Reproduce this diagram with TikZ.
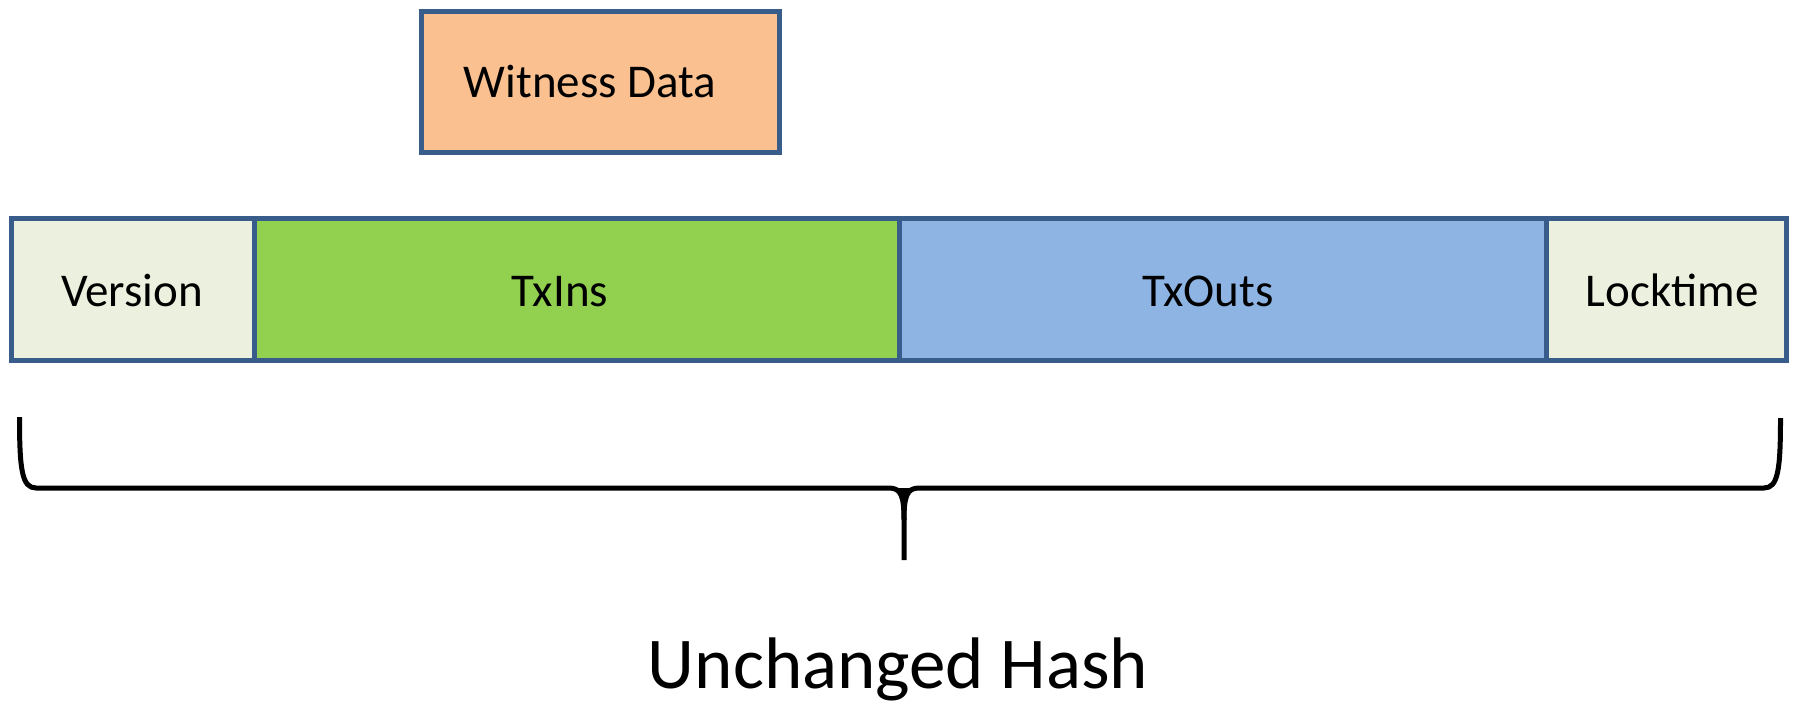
\documentclass[tikz,border=0pt]{standalone}
\usepackage{fontspec}
\setmainfont{Carlito}
\definecolor{cellline}{HTML}{385D8A}
\definecolor{plainfill}{HTML}{EBF1DE}
\definecolor{infill}{HTML}{92D050}
\definecolor{outfill}{HTML}{8EB4E3}
\definecolor{witfill}{HTML}{FAC090}
\begin{document}
\begin{tikzpicture}[x=1pt,y=-1pt,
  cell/.style={draw=cellline, line width=5pt, inner sep=0pt, outer sep=0pt,
               anchor=north west, minimum height=142pt},
  lbl/.style={font=\fontsize{47}{56}\selectfont, anchor=base, inner sep=0pt},
  bracepath/.style={line width=5pt, black, line join=round}]
\useasboundingbox (0,0) rectangle (1799,705);

% transaction fields
\node[cell, fill=plainfill, minimum width=242.5pt] (version) at (11.5,218.5) {};
\node[cell, fill=infill, minimum width=645pt] (txins) at (254,218.5) {};
\node[cell, fill=outfill, minimum width=647pt] (txouts) at (899,218.5) {};
\node[cell, fill=plainfill, minimum width=240.5pt] (locktime) at (1546,218.5) {};

% segregated witness block
\node[cell, fill=witfill, minimum width=358pt, minimum height=141.5pt] (witness) at (421.5,11) {};

% field labels
\node[lbl] (version-t) at (132,306) {Version};
\node[lbl] (txins-t) at (560,306) {TxIns};
\node[lbl] (txouts-t) at (1208,306) {TxOuts};
\node[lbl] (locktime-t) at (1672,306) {Locktime};
\node[lbl] (witness-t) at (590,97) {Witness Data};

% brace under the fields
\coordinate (bl) at (19.5,417);
\coordinate (br) at (1780.5,418);
\coordinate (tip) at (904,560);
\draw[bracepath] (bl) .. controls (19.5,470) and (22,488) .. (36,488)
  -- (889,488) .. controls (901,488) and (904,496) .. (904,520) -- (tip);
\draw[bracepath] (br) .. controls (1780.5,470) and (1778,488) .. (1764,488)
  -- (919,488) .. controls (907,488) and (904,496) .. (904,520);
% flared middle of the brace
\fill[black] (896,488) .. controls (903,490) and (902.5,505) .. (902.5,540)
  -- (905.5,540) .. controls (905.5,505) and (905,490) .. (912,488) -- cycle;

\node[font=\fontsize{73}{88}\selectfont, anchor=base, inner sep=0pt] (hash) at (898,688) {Unchanged Hash};
\end{tikzpicture}
\end{document}
